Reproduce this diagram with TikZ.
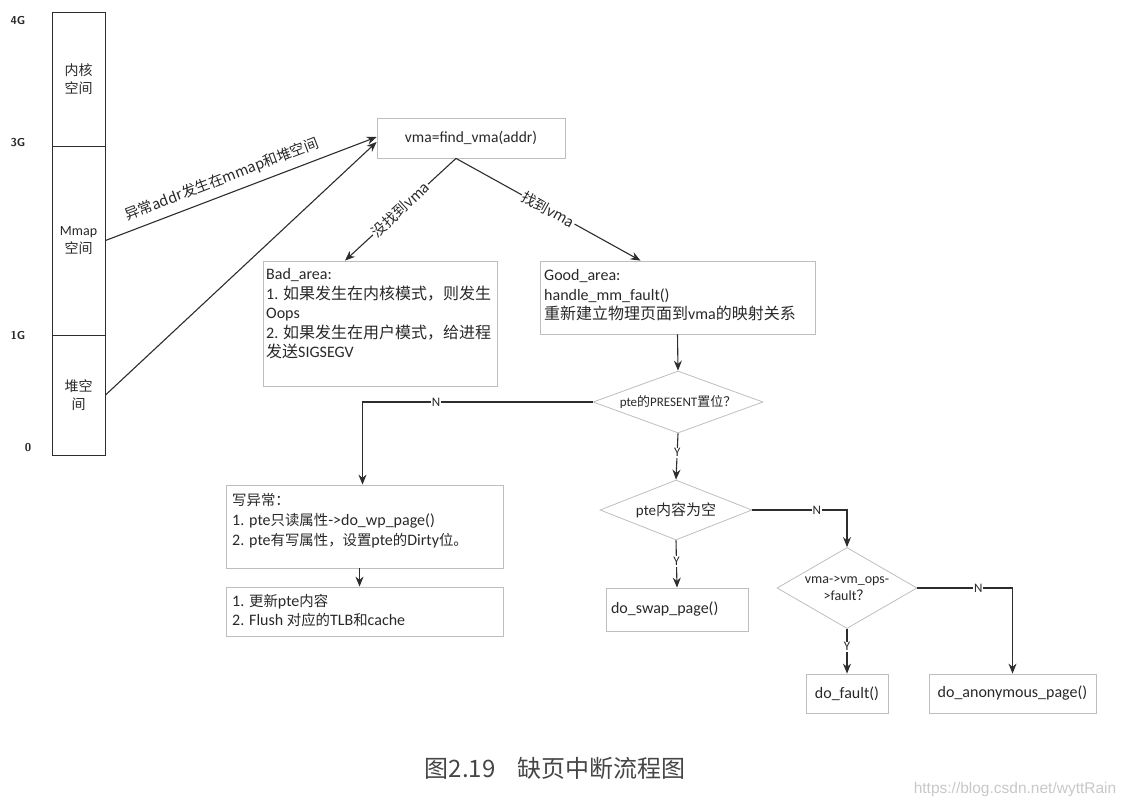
\documentclass[tikz,border=0pt]{standalone}
\usepackage{fontspec}
\setmainfont{Carlito}
\newfontfamily\cjk{Noto Sans CJK SC}
\newfontfamily\cjks{Noto Sans CJK SC}[Scale=0.9]
\newfontfamily\wmfont{Liberation Sans}
\newcommand\zh[1]{{\cjk #1}}
\newcommand\zhs[1]{{\cjks #1}}
\usetikzlibrary{shapes.geometric,arrows.meta}
\definecolor{boxgray}{RGB}{190,190,190}
\definecolor{linegray}{RGB}{45,45,45}
\definecolor{txtgray}{RGB}{40,40,40}
\definecolor{capgray}{RGB}{70,70,70}
\definecolor{wmgray}{RGB}{200,200,200}
\begin{document}
\begin{tikzpicture}[x=1pt,y=-1pt,
  every node/.style={text=txtgray},
  box/.style={draw=boxgray, line width=0.8pt, rectangle, inner sep=0pt},
  memcell/.style={draw=linegray, line width=1pt, rectangle, inner sep=0pt, minimum width=53pt, align=center, font=\fontsize{14}{18}\selectfont},
  dia/.style={draw=boxgray, line width=0.8pt, diamond, inner sep=0pt, align=center},
  body/.style={inner sep=0pt, anchor=north west, align=left, font=\fontsize{16}{19.5}\selectfont},
  memlab/.style={font=\sffamily\bfseries\fontsize{11.5}{13}\selectfont, inner sep=0pt},
  arr/.style={draw=linegray, line width=1.1pt, -{Stealth[length=10pt,width=8pt]}},
  yn/.style={fill=white, inner sep=1pt, font=\fontsize{13}{14}\selectfont},
  edgelab/.style={fill=white, inner sep=1pt, sloped, font=\cjk\fontsize{14.5}{17}\selectfont},
  single/.style={box, font=\fontsize{16}{18}\selectfont}
]
\useasboundingbox (0,0) rectangle (1123,804);

% memory column
\node[memcell, minimum height=134pt] (kern) at (78.5,79) {\zh{内核}\\\zh{空间}};
\node[memcell, minimum height=189pt] (mmap) at (78.5,240.5) {Mmap\\\zh{空间}};
\node[memcell, minimum height=120pt] (heap) at (78.5,395) {\zh{堆空}\\\zh{间}};
\node[memlab] (l4) at (18,20) {4G};
\node[memlab] (l3) at (18,143) {3G};
\node[memlab] (l1) at (18,335) {1G};
\node[memlab] (l0) at (28,447) {0};

% find_vma
\node[box, minimum width=188pt, minimum height=40pt, font=\fontsize{15.5}{17}\selectfont] (vma) at (471,138) {vma=find\_vma(addr)};

\draw[arr] (mmap.east) -- node[pos=0.45, above=7pt, sloped, inner sep=0pt, font=\cjk\fontsize{14.5}{17}\selectfont] {异常addr发生在mmap和堆空间} ([yshift=1pt]vma.west);
\draw[arr] (heap.east) -- ([yshift=-4pt]vma.west);

% bad / good
\node[box, minimum width=234pt, minimum height=125pt] (bad) at (380,323.5) {};
\node[body] (badt) at (266,268.5) {Bad\_area:\\1. \zh{如果发生在内核模式，则发生}\\Oops\\2. \zh{如果发生在用户模式，给进程}\\\zh{发送}SIGSEGV};
\node[box, minimum width=275pt, minimum height=73pt] (good) at (677.5,297.5) {};
\node[body] (goodt) at (544,269.5) {Good\_area:\\handle\_mm\_fault()\\\zh{重新建立物理页面到}vma\zh{的映射关系}};

\coordinate (apex) at ([xshift=-15pt]vma.south);
\draw[arr] (apex) -- node[pos=0.5, edgelab] {没找到vma} ([xshift=-35pt]bad.north);
\draw[arr] (apex) -- node[pos=0.5, edgelab] {找到vma} ([xshift=-37pt]good.north);

% diamonds
\node[dia, shape aspect=2.7, minimum width=170pt, minimum height=62pt, font=\fontsize{13}{15}\selectfont] (d1) at (678,402) {pte\zh{的}PRESENT\zh{置位？}};
\node[dia, shape aspect=2.5, minimum width=152pt, minimum height=60pt, font=\fontsize{15}{17}\selectfont] (d2) at (676,510) {pte\zh{内容为空}};
\node[dia, shape aspect=1.7, minimum width=140pt, minimum height=81pt, font=\fontsize{14}{17}\selectfont] (d3) at (847,588) {vma->vm\_ops-\\>fault\zh{？}};

\draw[arr] (good.south) -- (d1.north);

% write exception branch
\node[box, minimum width=277pt, minimum height=83pt] (wr) at (364.5,526.5) {};
\node[body, font=\fontsize{16}{20}\selectfont] (wrt) at (232,493) {\zhs{写异常：}\\1. pte\zhs{只读属性}->do\_wp\_page()\\2. pte\zhs{有写属性，设置}pte\zhs{的}Dirty\zhs{位。}};
\node[box, minimum width=277pt, minimum height=49pt] (fl) at (364.5,611.5) {};
\node[body, font=\fontsize{16}{19}\selectfont] (flt) at (232,594) {1. \zhs{更新}pte\zhs{内容}\\2. Flush \zhs{对应的}TLB\zhs{和}cache};

\draw[arr] (d1.west) -| node[pos=0.34, yn] {N} ([xshift=-2pt]wr.north);
\draw[arr] ([xshift=-5pt]wr.south) -- ([xshift=-5pt]fl.north);

% Y branch
\draw[arr] (d1.south) -- node[pos=0.42, yn] {Y} (d2.north);
\node[single, minimum width=142pt, minimum height=43pt, text width=132pt, align=left] (swap) at (677,609.5) {do\_swap\_page()};
\draw[arr] (d2.south) -- node[pos=0.45, yn] {Y} (swap.north);

\draw[arr] (d2.east) -| node[pos=0.34, yn] {N} (d3.north);
\node[single, minimum width=82pt, minimum height=39pt] (fault) at (847,693.5) {do\_fault()};
\node[single, minimum width=167pt, minimum height=39pt] (anon) at (1012.5,693.5) {do\_anonymous\_page()};
\draw[arr] (d3.south) -- node[pos=0.4, yn] {Y} (fault.north);
\draw[arr] (d3.east) -| node[pos=0.32, yn] {N} (anon.north);

% caption
\node[inner sep=0pt, text=capgray, font=\cjk\fontsize{24}{26}\selectfont] (cap) at (555,768) {图2.19\hspace{0.9em}缺页中断流程图};
\node[inner sep=0pt, text=wmgray, font=\wmfont\fontsize{15.5}{17}\selectfont] (wm) at (1015,789) {https://blog.csdn.net/wyttRain};
\end{tikzpicture}
\end{document}
